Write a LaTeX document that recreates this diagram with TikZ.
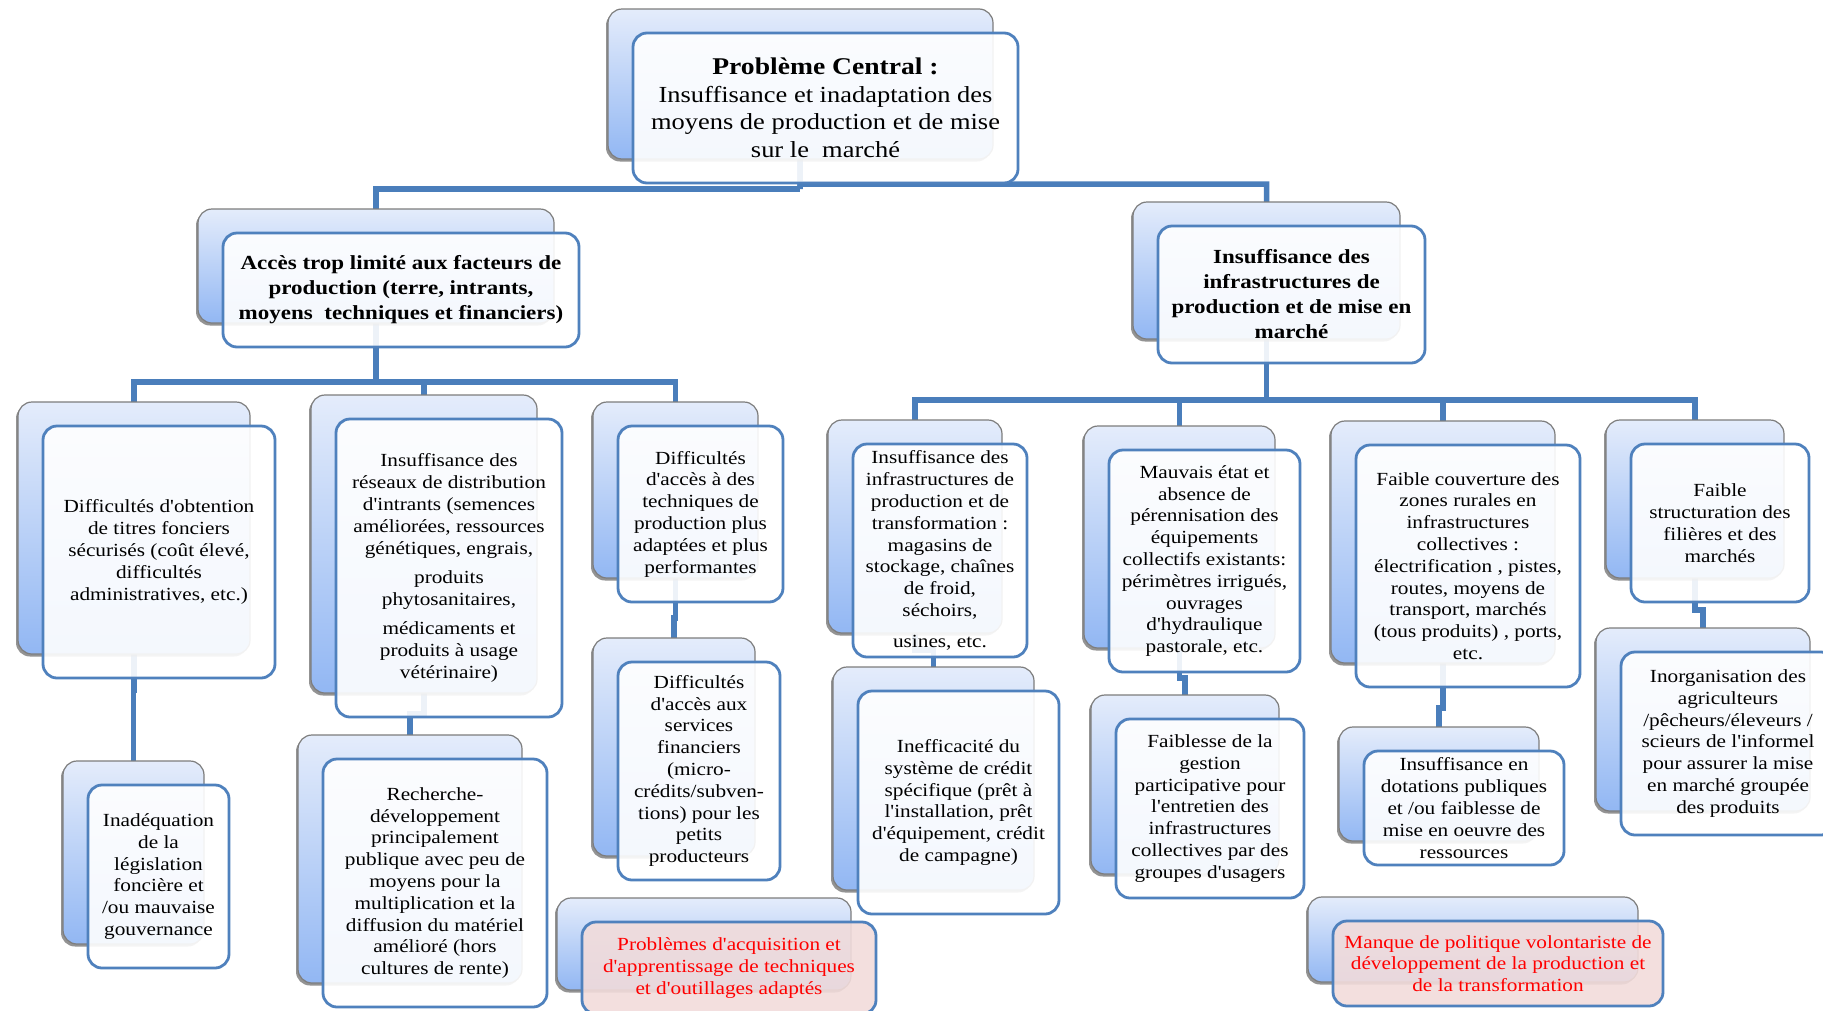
\documentclass[tikz,border=0pt]{standalone}
\usepackage{fontspec}
\setmainfont{Liberation Serif}[Ligatures=TeXOff, FakeStretch=1.15]
\usetikzlibrary{shadows,calc}

\definecolor{connblue}{RGB}{74,126,187}
\definecolor{frontblue}{RGB}{79,129,189}
\definecolor{backtop}{RGB}{228,236,251}
\definecolor{backbot}{RGB}{146,183,243}
\definecolor{backedge}{RGB}{125,125,125}
\definecolor{pinkfill}{RGB}{242,220,219}
\definecolor{alertred}{RGB}{255,0,0}

\pgfdeclarelayer{links}
\pgfsetlayers{links,main}

\newcommand\fontcentral{\fontsize{23}{27.5}\selectfont}
\newcommand\fontlevelone{\fontsize{20}{25}\selectfont\bfseries}
\newcommand\fontleveltwo{\fontsize{18.5}{21.8}\selectfont}

\tikzset{
  backbox/.style={rectangle, rounded corners=14pt, draw=backedge, line width=1.2pt,
    top color=backtop, bottom color=backbot, inner sep=0pt, outer sep=0pt,
    drop shadow={shadow xshift=-2pt, shadow yshift=-2.5pt, fill=black!70, opacity=0.6}},
  frontbox/.style={rectangle, rounded corners=14pt, draw=frontblue, line width=2.8pt,
    fill=white, fill opacity=0.9, text opacity=1, inner sep=2pt, outer sep=0pt,
    align=center, font=\fontleveltwo},
  alertbox/.style={fill=pinkfill, text=alertred},
  link/.style={draw=connblue, line width=5.5pt},
}

% \probbox[style]{name}{left}{top}{right}{bottom}{text}
% draws the shaded card behind and the framed card carrying the text
\newcommand\probbox[7][]{%
  \pgfmathsetmacro\pbW{#5-#3}%
  \pgfmathsetmacro\pbH{#6-#4}%
  \pgfmathsetmacro\pbX{(#3+#5)/2}%
  \pgfmathsetmacro\pbY{(#4+#6)/2}%
  \node[backbox, minimum width=\pbW pt, minimum height=\pbH pt] (#2-bk) at ({\pbX-25},{\pbY-24}) {};
  \node[frontbox, minimum width=\pbW pt, minimum height=\pbH pt, #1] (#2) at (\pbX,\pbY) {#7};
}

% vertical link from a parent card to a child card, with a small step at height #3
\newcommand\steplink[3]{%
  \coordinate (#2-step) at (0,#3);
  \draw[link] (#1-bk.center) -- (#1-bk.center |- #2-step) -- (#2-bk.center |- #2-step) -- (#2-bk.center);
}

\begin{document}
\begin{tikzpicture}[x=1pt,y=-1pt]
\begin{pgfonlayer}{links}
  \fill[white] (0,0) rectangle (1823,1010);
\end{pgfonlayer}
\useasboundingbox (0,0) rectangle (1823,1010);

% central problem
\probbox[font=\fontcentral]{central}{633}{33}{1018}{183}{{\fontsize{24}{27.5}\selectfont\bfseries Problème Central :}\\Insuffisance et inadaptation des\\moyens de production et de mise\\sur le\ \ marché}

% first level
\probbox[font=\fontlevelone]{acces}{223}{233}{579}{347}{Accès trop limité aux facteurs de\\production (terre, intrants,\\moyens\ \ techniques et financiers)}
\probbox[font=\fontlevelone]{infra}{1158}{226}{1425}{363}{Insuffisance des\\infrastructures de\\production et de mise en\\marché}

% second level, left branch
\probbox{obtention}{43}{426}{275}{678}{Difficultés d'obtention\\de titres fonciers\\sécurisés (coût élevé,\\difficultés\\administratives, etc.)}
\probbox{reseaux}{336}{419}{562}{717}{Insuffisance des\\réseaux de distribution\\d'intrants (semences\\améliorées, ressources\\génétiques, engrais,\\[8pt]produits\\phytosanitaires,\\[7pt]médicaments et\\produits à usage\\vétérinaire)}
\probbox{techniques}{618}{426}{783}{602}{Difficultés\\d'accès à des\\techniques de\\production plus\\adaptées et plus\\performantes}

% second level, right branch
\probbox{infraprod}{853}{444}{1027}{657}{Insuffisance des\\infrastructures de\\production et de\\transformation :\\magasins de\\stockage, chaînes\\de froid,\\séchoirs,\\[9pt]usines, etc.}
\probbox{mauvais}{1109}{450}{1300}{672}{Mauvais état et\\absence de\\pérennisation des\\équipements\\collectifs existants:\\périmètres irrigués,\\ouvrages\\d'hydraulique\\pastorale, etc.}
\probbox{couverture}{1356}{445}{1580}{687}{Faible couverture des\\zones rurales en\\infrastructures\\collectives :\\électrification , pistes,\\routes, moyens de\\transport, marchés\\(tous produits) , ports,\\etc.}
\probbox{structuration}{1631}{444}{1809}{602}{Faible\\structuration des\\filières et des\\marchés}

% third level
\probbox{inadequation}{88}{785}{229}{968}{Inadéquation\\de la\\législation\\foncière et\\/ou mauvaise\\gouvernance}
\probbox{recherche}{323}{759}{547}{1007}{Recherche-\\développement\\principalement\\publique avec peu de\\moyens pour la\\multiplication et la\\diffusion du matériel\\amélioré (hors\\cultures de rente)}
\probbox{services}{618}{662}{780}{880}{Difficultés\\d'accès aux\\services\\financiers\\(micro-\\crédits/subven-\\tions) pour les\\petits\\producteurs}
\probbox{inefficacite}{858}{691}{1059}{914}{Inefficacité du\\système de crédit\\spécifique (prêt à\\l'installation, prêt\\d'équipement, crédit\\de campagne)}
\probbox{gestion}{1116}{719}{1304}{898}{Faiblesse de la\\gestion\\participative pour\\l'entretien des\\infrastructures\\collectives par des\\groupes d'usagers}
\probbox{dotations}{1364}{751}{1564}{865}{Insuffisance en\\dotations publiques\\et /ou faiblesse de\\mise en oeuvre des\\ressources}
\probbox{inorganisation}{1621}{652}{1835}{835}{Inorganisation des\\agriculteurs\\/pêcheurs/éleveurs /\\scieurs de l'informel\\pour assurer la mise\\en marché groupée\\des produits}

% transversal causes
\probbox[alertbox]{problemes}{582}{922}{876}{1014}{Problèmes d'acquisition et\\d'apprentissage de techniques\\et d'outillages adaptés}
\probbox[alertbox]{manque}{1333}{921}{1663}{1006}{Manque de politique volontariste de\\développement de la production et\\de la transformation}

% links, drawn underneath the cards
\begin{pgfonlayer}{links}
  \coordinate (busAleft) at (800,189);
  \coordinate (busAright) at (800,184);
  \coordinate (busB) at (0,382);
  \coordinate (busC) at (0,400);
  \draw[link] (central-bk.center) -- (busAleft);
  \draw[link] (acces-bk.center) |- (busAleft);
  \draw[link] (central-bk.center) -- (busAright) -| (infra-bk.center);

  \draw[link] (acces-bk.center) -- (acces-bk.center |- busB);
  \draw[link] (obtention-bk.center) -- (obtention-bk.center |- busB) -- (techniques-bk.center |- busB) -- (techniques-bk.center);
  \draw[link] (reseaux-bk.center) -- (reseaux-bk.center |- busB);

  \draw[link] (infra-bk.center) -- (infra-bk.center |- busC);
  \draw[link] (infraprod-bk.center) -- (infraprod-bk.center |- busC) -- (structuration-bk.center |- busC) -- (structuration-bk.center);
  \draw[link] (mauvais-bk.center) -- (mauvais-bk.center |- busC);
  \draw[link] (couverture-bk.center) -- (couverture-bk.center |- busC);

  \steplink{obtention}{inadequation}{690}
  \steplink{reseaux}{recherche}{714}
  \steplink{techniques}{services}{618}
  \steplink{infraprod}{inefficacite}{650}
  \steplink{mauvais}{gestion}{678}
  \steplink{couverture}{dotations}{708}
  \steplink{structuration}{inorganisation}{610}
\end{pgfonlayer}
\end{tikzpicture}
\end{document}
